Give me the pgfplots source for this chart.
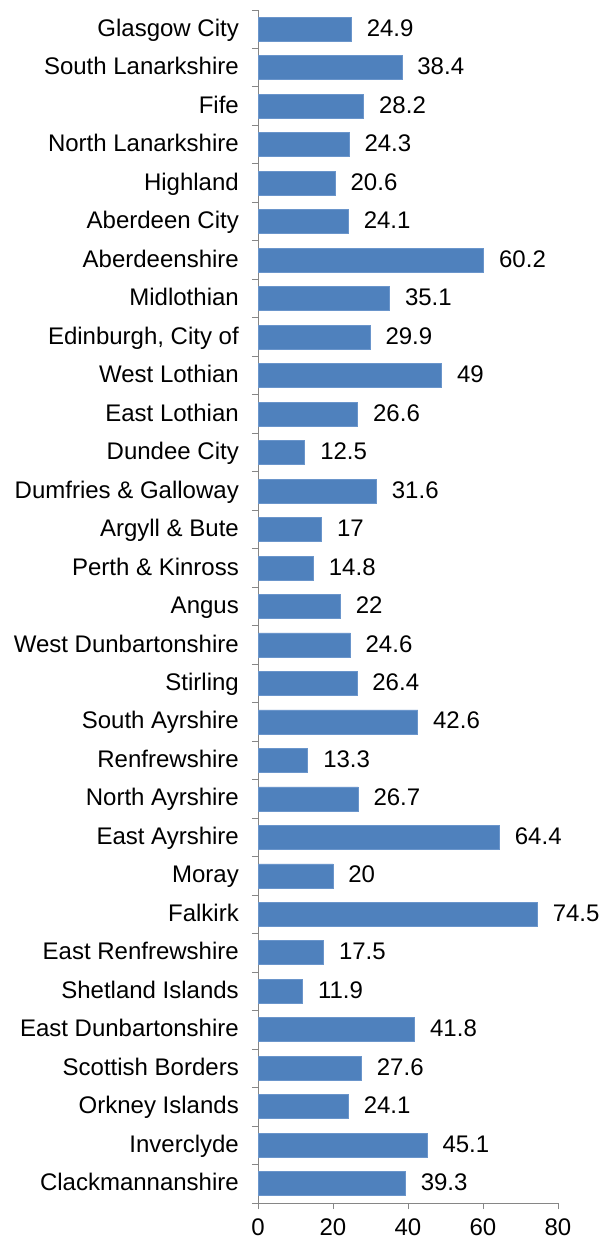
\documentclass[border=0pt]{standalone}
\usepackage{pgfplots}
\pgfplotsset{compat=1.18}
\usepackage{fontspec}
\setmainfont{Liberation Sans}
\definecolor{barblue}{HTML}{4F81BD}
\definecolor{baredge}{HTML}{6A95CB}
\definecolor{axgray}{HTML}{868686}
\newcommand{\lblfont}{\fontsize{24bp}{28bp}\selectfont}
\begin{document}
\begin{tikzpicture}
\begin{axis}[
  at={(258bp,39bp)}, anchor=south west,
  scale only axis, width=300bp, height=1193bp,
  xbar, bar width=24bp,
  xmin=0, xmax=80, ymin=0.5, ymax=31.5, y dir=reverse,
  axis x line*=bottom, axis y line*=left,
  axis line style={draw=axgray, line width=1bp, -},
  tick align=outside,
  xtick={0,20,40,60,80},
  ytick={1,...,31},
  minor ytick={0.5,1.5,...,31.5},
  major tick length=6bp, minor tick length=6bp,
  major y tick style={draw=none},
  minor y tick style={draw=axgray, line width=1bp},
  major x tick style={draw=axgray, line width=1bp},
  yticklabels={Glasgow City, South Lanarkshire, Fife, North Lanarkshire, Highland, Aberdeen City, Aberdeenshire, Midlothian, {Edinburgh, City of}, West Lothian, East Lothian, Dundee City, Dumfries \& Galloway, Argyll \& Bute, Perth \& Kinross, Angus, West Dunbartonshire, Stirling, South Ayrshire, Renfrewshire, North Ayrshire, East Ayrshire, Moray, Falkirk, East Renfrewshire, Shetland Islands, East Dunbartonshire, Scottish Borders, Orkney Islands, Inverclyde, Clackmannanshire},
  /pgf/number format/assume math mode=true,
  tick label style={font=\lblfont, text=black},
  yticklabel style={anchor=east, inner sep=0pt, xshift=-13bp, text height=17bp, text depth=5bp, yshift=-1bp},
  xticklabel style={anchor=north, inner sep=0pt, yshift=-9bp, text height=17bp, text depth=0bp},
  nodes near coords,
  nodes near coords style={font=\lblfont, text=black, anchor=west, inner sep=0pt, xshift=15bp, text height=17bp, text depth=5bp, yshift=-1bp},
]
\addplot[fill=barblue, draw=baredge, line width=0.8bp] coordinates {
(24.9,1) (38.4,2) (28.2,3) (24.3,4) (20.6,5) (24.1,6) (60.2,7) (35.1,8)
(29.9,9) (49,10) (26.6,11) (12.5,12) (31.6,13) (17,14) (14.8,15) (22,16)
(24.6,17) (26.4,18) (42.6,19) (13.3,20) (26.7,21) (64.4,22) (20,23) (74.5,24)
(17.5,25) (11.9,26) (41.8,27) (27.6,28) (24.1,29) (45.1,30) (39.3,31)
};
\end{axis}
\pgfresetboundingbox
\path[use as bounding box] (0,0) rectangle (602bp,1242bp);
\end{tikzpicture}
\end{document}
